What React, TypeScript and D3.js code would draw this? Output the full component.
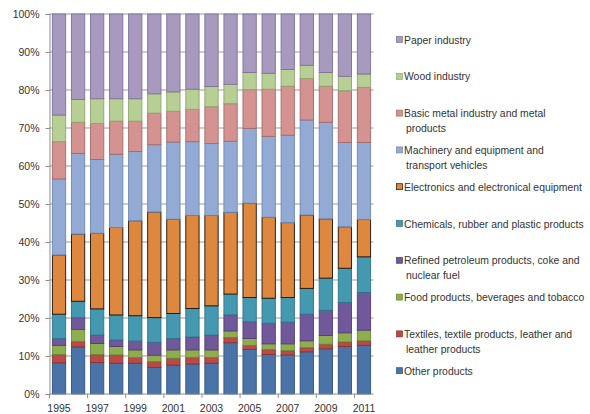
import React, { useEffect, useRef } from 'react';
import * as d3 from 'd3';

// years on the x axis
const years = [1995, 1996, 1997, 1998, 1999, 2000, 2001, 2002, 2003, 2004, 2005, 2006, 2007, 2008, 2009, 2010, 2011];

// series, bottom to top (shares in %)
const otherProducts = [8.2, 12.4, 8.3, 8.1, 8.1, 7.0, 7.6, 7.9, 8.1, 13.5, 11.7, 10.4, 10.3, 11.1, 11.9, 12.5, 12.8];
const textiles = [2.2, 1.4, 2.1, 2.2, 1.5, 1.5, 1.8, 1.7, 1.5, 1.4, 1.1, 1.3, 1.1, 1.1, 1.2, 1.2, 1.2];
const food = [2.4, 3.2, 2.9, 2.2, 2.0, 1.7, 2.2, 2.0, 2.0, 1.7, 1.8, 1.5, 1.8, 1.8, 2.3, 2.4, 2.8];
const refined = [1.8, 3.1, 2.2, 1.7, 2.3, 3.4, 3.0, 3.4, 3.9, 4.2, 4.4, 5.4, 5.7, 7.0, 6.6, 8.0, 9.9];
const chemicals = [6.4, 4.3, 6.9, 6.6, 6.7, 6.5, 6.6, 7.5, 7.7, 5.5, 6.4, 6.6, 6.5, 6.8, 8.5, 9.0, 9.4];
const electronics = [15.6, 17.7, 19.9, 23.0, 25.0, 27.8, 24.8, 24.5, 23.8, 21.5, 24.8, 21.3, 19.7, 19.3, 15.6, 10.9, 9.8];
const machinery = [20.0, 21.2, 19.4, 19.3, 18.2, 17.7, 20.3, 19.4, 18.9, 18.7, 19.7, 21.3, 23.0, 25.0, 25.4, 22.2, 20.3];
const basicMetal = [9.8, 8.2, 9.5, 8.7, 8.0, 8.3, 8.1, 8.5, 9.7, 9.9, 10.2, 12.4, 12.9, 10.9, 9.5, 13.6, 14.5];
const wood = [7.0, 6.0, 6.5, 5.9, 5.9, 5.1, 5.1, 5.3, 5.3, 5.1, 4.5, 4.2, 4.4, 3.5, 3.6, 3.8, 3.5];
const paper = [26.6, 22.5, 22.3, 22.3, 22.3, 21.0, 20.5, 19.8, 19.1, 18.5, 15.4, 15.6, 14.6, 13.5, 15.4, 16.4, 15.8];

const seriesNames = [
  'Other products',
  'Textiles, textile products, leather and leather products',
  'Food products, beverages and tobacco',
  'Refined petroleum products, coke and nuclear fuel',
  'Chemicals, rubber and plastic products',
  'Electronics and electronical equipment',
  'Machinery and equipment and transport vehicles',
  'Basic metal industry and metal products',
  'Wood industry',
  'Paper industry',
];
const seriesValues = [otherProducts, textiles, food, refined, chemicals, electronics, machinery, basicMetal, wood, paper];
const fills = ['#4A74A8', '#B94A47', '#8EAD4E', '#71589A', '#4499B0', '#DE873F', '#93ABD4', '#D49391', '#B7CE94', '#A899BF'];
const strokes = ['#2F527E', '#8A3330', '#6A8736', '#523E75', '#2E7487', '#1a1008', '#6E87B0', '#A46A68', '#8EA66C', '#7F7198'];

// legend lines (top to bottom)
const legendLines: string[][] = [
  ['Paper industry'],
  ['Wood industry'],
  ['Basic metal industry and metal', 'products'],
  ['Machinery and equipment and', 'transport vehicles'],
  ['Electronics and electronical equipment'],
  ['Chemicals, rubber and plastic products'],
  ['Refined petroleum products, coke and', 'nuclear fuel'],
  ['Food products, beverages and tobacco'],
  ['Textiles, textile products, leather and', 'leather products'],
  ['Other products'],
];

const yTicks = [0, 10, 20, 30, 40, 50, 60, 70, 80, 90, 100];

const App = () => {
  const ref = useRef<SVGSVGElement>(null);

  useEffect(() => {
    if (!ref.current) return;
    const svg = d3.select(ref.current);
    svg.selectAll('*').remove();

    const font = "'Liberation Sans', Arial, sans-serif";
    const left = 49.5, right = 373.5, top = 14, bottom = 394;

    const rows = years.map((yr, i) => {
      const row: any = { year: String(yr) };
      seriesNames.forEach((n, k) => (row[n] = seriesValues[k][i]));
      return row;
    });

    const stacked = d3.stack<any>().keys(seriesNames).offset(d3.stackOffsetExpand)(rows);

    const x = d3.scaleBand().domain(years.map(String)).range([left, right]).paddingInner(0.25).paddingOuter(0.125);
    const y = d3.scaleLinear().domain([0, 1]).range([bottom, top]);

    // gridlines
    svg.append('g')
      .selectAll('line')
      .data(yTicks.slice(1))
      .enter()
      .append('line')
      .attr('x1', left)
      .attr('x2', right)
      .attr('y1', d => y(d / 100))
      .attr('y2', d => y(d / 100))
      .attr('stroke', '#bcbcbc')
      .attr('stroke-width', 1.4);

    // bars
    stacked.forEach((s, k) => {
      svg.append('g')
        .selectAll('rect')
        .data(s)
        .enter()
        .append('rect')
        .attr('x', d => (x(d.data.year) || 0) + 0.5)
        .attr('y', d => y(d[1]))
        .attr('width', x.bandwidth() - 1)
        .attr('height', d => y(d[0]) - y(d[1]))
        .attr('fill', fills[k])
        .attr('stroke', strokes[k])
        .attr('stroke-width', 0.9);
    });

    // y axis
    const yAxis = svg.append('g').attr('transform', `translate(${left},0)`)
      .call(d3.axisLeft(y).tickValues(yTicks.map(t => t / 100)).tickFormat(d => `${Math.round(+d * 100)}%`).tickSize(4).tickPadding(6));
    yAxis.select('.domain').attr('stroke', '#8c8c8c');
    yAxis.selectAll('line').attr('stroke', '#8c8c8c');
    yAxis.selectAll('text').attr('font-family', font).attr('font-size', 10.5).attr('fill', '#333');

    // x axis: tick marks at every second category boundary, labels on every second year
    const step = x.step();
    const xg = svg.append('g');
    xg.append('line').attr('x1', left).attr('x2', right).attr('y1', bottom).attr('y2', bottom).attr('stroke', '#8c8c8c');
    d3.range(0, years.length + 1, 2).forEach(i => {
      const xx = left + i * step;
      xg.append('line').attr('x1', xx).attr('x2', xx).attr('y1', bottom).attr('y2', bottom + 4).attr('stroke', '#8c8c8c');
    });
    xg.selectAll('text')
      .data(years.filter((_, i) => i % 2 === 0))
      .enter()
      .append('text')
      .attr('x', d => (x(String(d)) || 0) + x.bandwidth() / 2)
      .attr('y', bottom + 18)
      .attr('text-anchor', 'middle')
      .attr('font-family', font)
      .attr('font-size', 10.5)
      .attr('fill', '#333')
      .text(d => d);

    // legend
    const lg = svg.append('g');
    legendLines.forEach((lines, i) => {
      const k = seriesNames.length - 1 - i;
      const cy = 40 + i * 36.8;
      lg.append('rect')
        .attr('x', 396.5).attr('y', cy - 3.5).attr('width', 6).attr('height', 6)
        .attr('fill', fills[k]).attr('stroke', strokes[k]).attr('stroke-width', 0.7);
      lines.forEach((ln, j) => {
        lg.append('text')
          .attr('x', j === 0 ? 404 : 406)
          .attr('y', cy + j * 14.5)
          .attr('dy', '0.35em')
          .attr('font-family', font)
          .attr('font-size', 10.4)
          .attr('fill', '#333')
          .text(ln);
      });
    });
  }, []);

  return (
    <svg ref={ref} width={590} height={414} style={{ position: 'absolute', left: 0, top: 0, background: '#fff' }} />
  );
};

export default App;
